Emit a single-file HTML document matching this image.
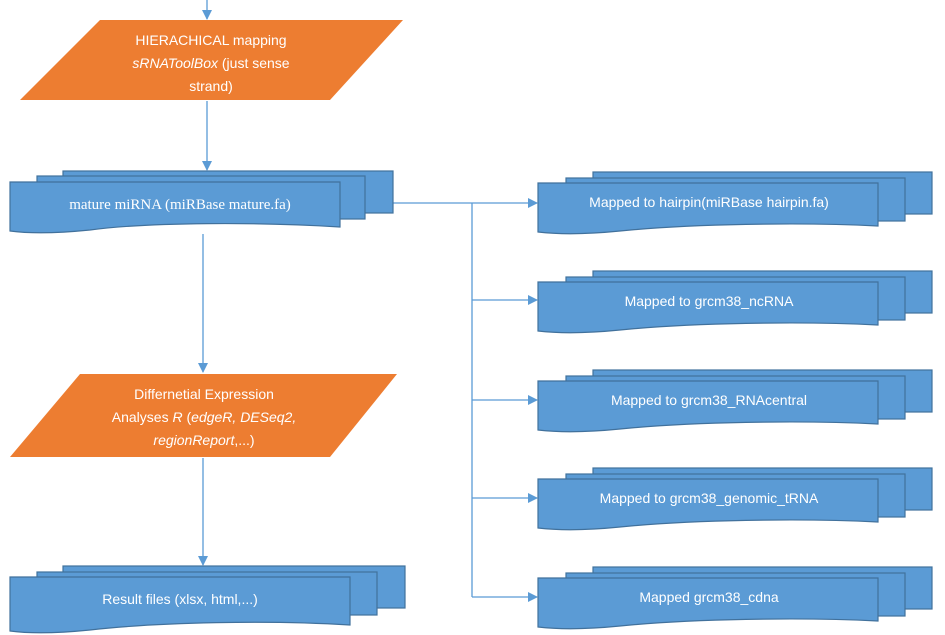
<!DOCTYPE html>
<html><head><style>body{margin:0;background:#fff}svg{display:block}</style></head><body>
<svg width="945" height="635" viewBox="0 0 945 635" xmlns="http://www.w3.org/2000/svg" font-family="Liberation Sans, sans-serif">
<defs>
<marker id="a" markerWidth="10" markerHeight="10" refX="9" refY="5" orient="auto" markerUnits="userSpaceOnUse"><path d="M0,0 L10,5 L0,10 z" fill="#5B9BD5"/></marker>
</defs>
<g stroke="#5B9BD5" stroke-width="1.3" fill="none">
<line x1="207" y1="0" x2="207" y2="19" marker-end="url(#a)"/>
<line x1="207" y1="101" x2="207" y2="170" marker-end="url(#a)"/>
<line x1="203" y1="234" x2="203" y2="372" marker-end="url(#a)"/>
<line x1="203" y1="458" x2="203" y2="565" marker-end="url(#a)"/>
<line x1="393" y1="203" x2="537" y2="203" marker-end="url(#a)"/>
<line x1="472" y1="203" x2="472" y2="597"/>
<line x1="472" y1="300" x2="537" y2="300" marker-end="url(#a)"/>
<line x1="472" y1="400" x2="537" y2="400" marker-end="url(#a)"/>
<line x1="472" y1="498" x2="537" y2="498" marker-end="url(#a)"/>
<line x1="472" y1="597" x2="537" y2="597" marker-end="url(#a)"/>
</g>
<g fill="#ED7D31">
<polygon points="100,20 403,20 330,100 20,100"/>
<polygon points="80,374 397,374 330,457 10,457"/>
</g>
<g fill="#fff" font-size="14" text-anchor="middle">
<text x="211" y="45">HIERACHICAL mapping</text>
<text x="211" y="68"><tspan font-style="italic">sRNAToolBox</tspan> (just sense</text>
<text x="211" y="91">strand)</text>
<text x="204" y="399">Differnetial Expression</text>
<text x="204" y="422">Analyses <tspan font-style="italic">R</tspan> (<tspan font-style="italic">edgeR, DESeq2,</tspan></text>
<text x="204" y="445"><tspan font-style="italic">regionReport</tspan>,...)</text>
</g>
<g fill="#5B9BD5" stroke="#41719C" stroke-width="1.2">
<!-- mature -->
<rect x="63" y="171" width="330" height="42"/><rect x="37" y="176" width="328" height="43"/>
<path d="M10,182 H340 V227 C260,222 150,222 90,230 C50,234 25,233 10,231 Z"/>
<!-- result -->
<rect x="63" y="566" width="342" height="42"/><rect x="37" y="572" width="340" height="43"/>
<path d="M10,577 H350 V625 C270,620 160,622 90,630 C50,634 25,633 10,631 Z"/>
<!-- right boxes -->
<g id="r1"><rect x="593" y="172" width="339" height="42"/><rect x="566" y="178" width="339" height="43"/>
<path d="M538,183 H878 V226 C800,222 690,224 620,231 C580,235 555,234 538,232 Z"/></g>
<use href="#r1" y="99"/><use href="#r1" y="198"/><use href="#r1" y="296"/><use href="#r1" y="395"/>
</g>
<g fill="#fff" font-size="14" text-anchor="middle">
<text x="180" y="209" font-family="Liberation Serif, serif" font-size="15">mature miRNA (miRBase mature.fa)</text>
<text x="180" y="604">Result files (xlsx, html,...)</text>
<text x="709" y="207">Mapped to hairpin(miRBase hairpin.fa)</text>
<text x="709" y="306">Mapped to grcm38_ncRNA</text>
<text x="709" y="405">Mapped to grcm38_RNAcentral</text>
<text x="709" y="503">Mapped to grcm38_genomic_tRNA</text>
<text x="709" y="602">Mapped grcm38_cdna</text>
</g>
</svg>
</body></html>
